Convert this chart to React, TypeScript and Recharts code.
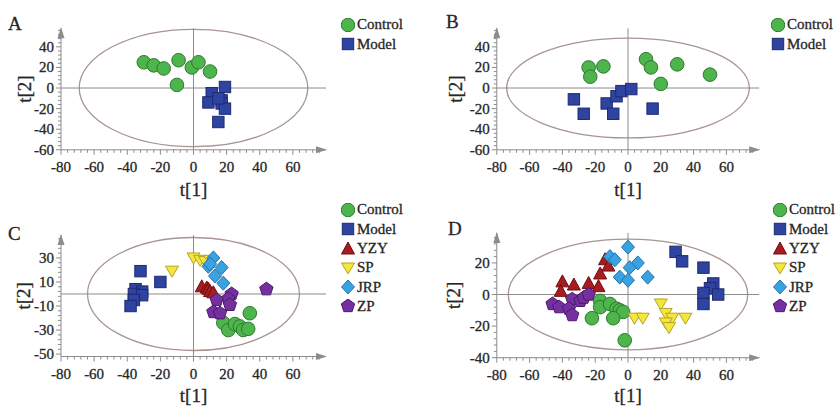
import React from 'react';
import {
  ScatterChart, Scatter, XAxis, YAxis, ReferenceLine, ReferenceArea, ReferenceDot, Legend
} from 'recharts';

type Pt = [number, number];

const xTickLabels = [-80, -60, -40, -20, 0, 20, 40, 60];
const yTickLabelsAB = [-60, -40, -20, 0, 20, 40];
const yTickLabelsC = [-50, -30, -10, 10, 30];
const yTickLabelsD = [-40, -20, 0, 20];

// panel A
const aControl: Pt[] = [[-30, 25], [-24, 22], [-18, 19], [-9, 27], [-1, 20], [3, 25], [10, 16], [-10, 3]];
const aModel: Pt[] = [[19, 1], [11, -5], [9, -14], [17, -12], [17, -15], [19, -20], [15, -33], [15, -10]];

// panel B
const bControl: Pt[] = [[-24, 20], [-23, 11], [-15, 21], [11, 28], [14, 20], [20, 4], [30, 23], [50, 13]];
const bModel: Pt[] = [[-33, -11], [-27, -25], [-13, -15], [-9, -25], [-7, -8], [-4, -3], [2, -1], [15, -20]];

// panel C
const cControl: Pt[] = [[34, -16], [18, -24], [21, -30], [25, -25], [28, -27], [30, -30], [33, -29]];
const cModel: Pt[] = [[-32, 19], [-20, 10], [-35, 4], [-31, 2], [-36, 0], [-31, -1], [-36, -5], [-38, -10]];
const cYZY: Pt[] = [[5, 6], [8, 5], [9, 4], [10, 2], [12, 1]];
const cSP: Pt[] = [[-13, 19], [0, 30], [4, 28], [7, 27], [10, 28]];
const cJRP: Pt[] = [[12, 30], [9, 23], [10, 25], [17, 22], [13, 15], [18, 9]];
const cZP: Pt[] = [[44, 4], [23, 0], [21, -4], [14, -5], [22, -9], [12, -15], [16, -16]];

// panel D
const dControl: Pt[] = [[-17, -4], [-17, -8], [-11, -6], [-7, -9], [-5, -10], [-3, -11], [-22, -15], [-9, -15], [-2, -29]];
const dModel: Pt[] = [[29, 27], [33, 21], [46, 17], [52, 7], [50, 4], [46, 1], [55, 0], [46, -6]];
const dYZY: Pt[] = [[-14, 22], [-12, 18], [-17, 13], [-40, 8], [-33, 6], [-41, 2], [-24, 7], [-18, 5]];
const dSP: Pt[] = [[4, -15], [9, -15], [20, -6], [23, -12], [27, -15], [23, -18], [25, -21], [35, -15]];
const dJRP: Pt[] = [[0, 30], [-11, 24], [-8, 22], [6, 20], [1, 17], [12, 11], [-5, 11], [0, 9]];
const dZP: Pt[] = [[-46, -6], [-42, -8], [-34, -3], [-36, -9], [-34, -13], [-29, -4], [-27, -2], [-24, 0]];

const FONT = '"Liberation Serif", "Times New Roman", serif';
const AXIS = '#8c8c8c';
const ELLIPSE = '#a8958f';
const INK = '#262626';

const STYLE: Record<string, { kind: string; fill: string; stroke: string }> = {
  Control: { kind: 'circle', fill: '#4db54b', stroke: '#2c7a2e' },
  Model: { kind: 'square', fill: '#2f43a0', stroke: '#1d2a72' },
  YZY: { kind: 'up', fill: '#a81c20', stroke: '#6e0e10' },
  SP: { kind: 'down', fill: '#f4e63c', stroke: '#b5a524' },
  JRP: { kind: 'diamond', fill: '#3ba2e0', stroke: '#1f73b4' },
  ZP: { kind: 'pentagon', fill: '#7530a0', stroke: '#4d1a6c' },
};

const steps = (lo: number, hi: number, step: number) => {
  const out: number[] = [];
  for (let v = lo; v <= hi + 1e-9; v += step) out.push(v);
  return out;
};

const Marker = ({ cx, cy, name }: { cx: number; cy: number; name: string }) => {
  const { kind, fill, stroke } = STYLE[name];
  const common = { fill, stroke, strokeWidth: 1 };
  switch (kind) {
    case 'circle':
      return <circle cx={cx} cy={cy} r={6.8} {...common} />;
    case 'square':
      return <rect x={cx - 5.7} y={cy - 5.7} width={11.4} height={11.4} {...common} />;
    case 'up':
      return <polygon points={`${cx},${cy - 7} ${cx + 6.5},${cy + 5} ${cx - 6.5},${cy + 5}`} {...common} />;
    case 'down':
      return <polygon points={`${cx - 6.5},${cy - 5} ${cx + 6.5},${cy - 5} ${cx},${cy + 6}`} {...common} />;
    case 'diamond':
      return <polygon points={`${cx},${cy - 7} ${cx + 6.5},${cy} ${cx},${cy + 7} ${cx - 6.5},${cy}`} {...common} />;
    default: {
      const pts = [0, 1, 2, 3, 4].map(i => {
        const a = (-90 + i * 72) * Math.PI / 180;
        return `${cx + 7 * Math.cos(a)},${cy + 7 * Math.sin(a)}`;
      }).join(' ');
      return <polygon points={pts} {...common} />;
    }
  }
};

// the scanned labels look a touch heavier than plain Times, so add a hairline stroke
const textInk = { fontFamily: FONT, fill: INK, stroke: INK, strokeWidth: 0.3 };

const XTick = (props: any) => {
  const { x, y, payload } = props;
  const major = xTickLabels.includes(payload.value);
  return (
    <g>
      <line x1={x} x2={x} y1={y} y2={y + (major ? 5 : 3)} stroke={AXIS} />
      {major && (
        <text x={x} y={y + 17.5} textAnchor="middle" dominantBaseline="central"
          fontSize={15} {...textInk}>{payload.value}</text>
      )}
    </g>
  );
};

const makeYTick = (majors: number[]) => (props: any) => {
  const { x, y, payload } = props;
  const major = majors.includes(payload.value);
  return (
    <g>
      <line x1={x} x2={x - (major ? 5 : 3)} y1={y} y2={y} stroke={AXIS} />
      {major && (
        <text x={x - 7} y={y} textAnchor="end" dominantBaseline="central"
          fontSize={15} {...textInk}>{payload.value}</text>
      )}
    </g>
  );
};

interface PanelProps {
  letter: string;
  left: number; top: number; height: number;
  plotLeft: number; plotRight: number; plotTop: number; plotBottom: number;
  yDomain: [number, number];
  yMajor: number[];
  yMinor: number[];
  ellipse: [number, number];
  series: { name: string; data: Pt[] }[];
  legendX: number; legendY: number;
  letterX: number; letterY: number;
  yTitleX: number;
  xTitleOffset: number;
}

const Panel = (p: PanelProps) => {
  const W = 420;
  return (
    <div style={{ position: 'absolute', left: p.left, top: p.top, width: W, height: p.height }}>
      <div style={{
        position: 'absolute', left: p.letterX, top: p.letterY, fontFamily: FONT,
        fontSize: 19, lineHeight: '19px', color: INK, WebkitTextStroke: '0.3px ' + INK
      }}>{p.letter}</div>
      <ScatterChart width={W} height={p.height}
        margin={{ top: p.plotTop, right: W - p.plotRight, bottom: 0, left: 0 }}>
        <XAxis type="number" dataKey="x" domain={[-80, 80]} ticks={steps(-80, 76, 4)} interval={0}
          tick={XTick} tickLine={false} tickSize={0} tickMargin={0} allowDataOverflow
          axisLine={{ stroke: AXIS }} height={p.height - p.plotBottom}
          label={{ value: 't[1]', position: 'insideBottom', offset: p.xTitleOffset, fontSize: 19, ...textInk }} />
        <YAxis type="number" dataKey="y" domain={p.yDomain} ticks={p.yMinor} interval={0}
          tick={makeYTick(p.yMajor)} tickLine={false} tickSize={0} tickMargin={0} allowDataOverflow
          axisLine={{ stroke: AXIS }} width={p.plotLeft}
          label={{
            content: (lp: any) => {
              const vb = lp.viewBox || { y: p.plotTop, height: p.plotBottom - p.plotTop };
              const cy = vb.y + vb.height / 2;
              return (
                <text transform={`translate(${p.yTitleX},${cy}) rotate(-90)`} textAnchor="middle"
                  dominantBaseline="central" fontSize={19} {...textInk}>t[2]</text>
              );
            }
          }} />
        <ReferenceArea x1={-p.ellipse[0]} x2={p.ellipse[0]} y1={-p.ellipse[1]} y2={p.ellipse[1]} ifOverflow="visible"
          shape={(s: any) => (
            <ellipse cx={s.x + s.width / 2} cy={s.y + s.height / 2} rx={Math.abs(s.width / 2)} ry={Math.abs(s.height / 2)}
              fill="none" stroke={ELLIPSE} strokeWidth={1.3} />
          )} />
        <ReferenceLine x={0} stroke={AXIS} strokeWidth={1} />
        <ReferenceLine y={0} stroke={AXIS} strokeWidth={1} />
        <ReferenceDot x={80} y={p.yDomain[0]} ifOverflow="visible"
          shape={(d: any) => (
            <polygon points={`${d.cx + 1},${d.cy} ${d.cx - 10},${d.cy - 3.5} ${d.cx - 10},${d.cy + 3.5}`} fill={AXIS} />
          )} />
        <ReferenceDot x={-80} y={p.yDomain[1]} ifOverflow="visible"
          shape={(d: any) => (
            <polygon points={`${d.cx},${d.cy - 1} ${d.cx - 3.5},${d.cy + 10} ${d.cx + 3.5},${d.cy + 10}`} fill={AXIS} />
          )} />
        {p.series.map(s => (
          <Scatter key={s.name} name={s.name} data={s.data.map(([x, y]) => ({ x, y }))}
            isAnimationActive={false}
            shape={(d: any) => <Marker cx={d.cx} cy={d.cy} name={s.name} />} />
        ))}
        <Legend layout="horizontal" verticalAlign="middle" align="center"
          wrapperStyle={{ left: p.legendX - 7, top: p.legendY - 9.65, width: 80 }}
          content={() => (
            <div style={{ fontFamily: FONT, fontSize: 15, color: INK, WebkitTextStroke: '0.3px ' + INK }}>
              {p.series.map(s => (
                <div key={s.name} style={{ display: 'flex', alignItems: 'center', height: 19.3 }}>
                  <svg width={14} height={14} style={{ marginRight: 2 }}>
                    <Marker cx={7} cy={7} name={s.name} />
                  </svg>
                  <span>{s.name}</span>
                </div>
              ))}
            </div>
          )} />
      </ScatterChart>
    </div>
  );
};

export default function App() {
  return (
    <div style={{ position: 'absolute', left: 0, top: 0, width: 840, height: 406, background: '#fff' }}>
      <Panel letter="A" left={0} top={0} height={200}
        plotLeft={61} plotRight={326} plotTop={28.3} plotBottom={149.8}
        yDomain={[-60, 58]} yMajor={yTickLabelsAB} yMinor={steps(-60, 56, 4)} ellipse={[69, 57]}
        series={[{ name: 'Control', data: aControl }, { name: 'Model', data: aModel }]}
        legendX={348} legendY={25} letterX={8} letterY={14} yTitleX={24} xTitleOffset={4} />
      <Panel letter="B" left={420} top={0} height={200}
        plotLeft={76.8} plotRight={339.2} plotTop={28.3} plotBottom={149.8}
        yDomain={[-60, 58]} yMajor={yTickLabelsAB} yMinor={steps(-60, 56, 4)} ellipse={[74, 48.5]}
        series={[{ name: 'Control', data: bControl }, { name: 'Model', data: bModel }]}
        legendX={358} legendY={25} letterX={26} letterY={12} yTitleX={35} xTitleOffset={4} />
      <Panel letter="C" left={0} top={200} height={206}
        plotLeft={61} plotRight={326} plotTop={35.1} plotBottom={156.5}
        yDomain={[-52, 49]} yMajor={yTickLabelsC} yMinor={steps(-50, 46, 4)} ellipse={[64, 47]}
        series={[
          { name: 'Control', data: cControl }, { name: 'Model', data: cModel },
          { name: 'YZY', data: cYZY }, { name: 'SP', data: cSP },
          { name: 'JRP', data: cJRP }, { name: 'ZP', data: cZP },
        ]}
        legendX={348} legendY={10} letterX={8} letterY={24} yTitleX={23} xTitleOffset={4} />
      <Panel letter="D" left={420} top={200} height={206}
        plotLeft={76.8} plotRight={339.2} plotTop={32.9} plotBottom={157.7}
        yDomain={[-40, 39]} yMajor={yTickLabelsD} yMinor={steps(-40, 36, 4)} ellipse={[73, 35]}
        series={[
          { name: 'Control', data: dControl }, { name: 'Model', data: dModel },
          { name: 'YZY', data: dYZY }, { name: 'SP', data: dSP },
          { name: 'JRP', data: dJRP }, { name: 'ZP', data: dZP },
        ]}
        legendX={360} legendY={10} letterX={28} letterY={19} yTitleX={33} xTitleOffset={4} />
    </div>
  );
}
